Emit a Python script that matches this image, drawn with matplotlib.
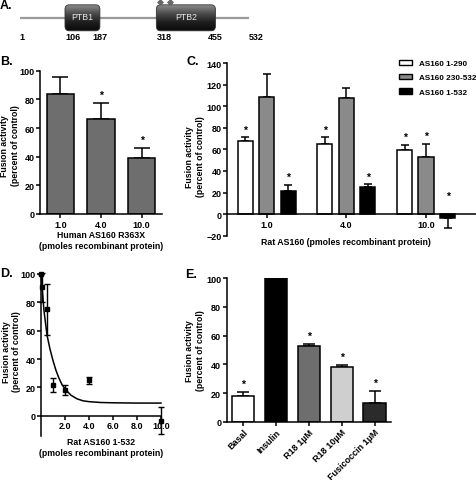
import matplotlib
matplotlib.use("Agg")
import matplotlib.pyplot as plt
import numpy as np
from matplotlib.patches import FancyBboxPatch, Patch
from matplotlib.colors import LinearSegmentedColormap

plt.rcParams["font.family"] = ["Liberation Sans", "DejaVu Sans"]
plt.rcParams["font.weight"] = "bold"
plt.rcParams["axes.labelweight"] = "bold"

# ---- data ----
# A: AS160 domain map (residues)
protein_length = 532
domain_names = ["PTB1", "PTB2"]
domain_starts = [106, 318]
domain_ends = [187, 455]
site_residues = [327, 350]

# B: human AS160 R363X
b_doses = ["1.0", "4.0", "10.0"]
b_values = [83.5, 66.0, 39.3]
b_errors = [11.8, 11.7, 6.7]
b_stars = [False, True, True]

# C: rat AS160 fragments
c_doses = ["1.0", "4.0", "10.0"]
c_series = ["AS160 1-290", "AS160 230-532", "AS160 1-532"]
c_values = [
    [67.5, 65.0, 59.0],
    [108.5, 108.0, 53.0],
    [21.5, 25.0, -3.7],
]
c_errors = [
    [3.5, 6.0, 5.0],
    [21.5, 9.0, 12.0],
    [5.5, 2.5, 9.6],
]
c_stars = [
    [True, True, True],
    [False, False, True],
    [True, True, True],
]

# D: dose response AS160 1-532
d_x = [0.0, 0.1, 0.5, 1.0, 2.0, 4.0, 10.0]
d_y = [100.0, 90.5, 75.0, 22.0, 18.0, 25.0, -3.5]
d_err = [0.0, 10.0, 18.0, 5.0, 3.5, 2.5, 9.6]
d_fit_x = [0.0, 0.25, 0.5, 0.75, 1.0, 1.25, 1.5, 1.75, 2.0, 2.5, 3.0, 3.5, 4.0, 5.0, 6.0, 8.0, 10.0]
d_fit_y = [100.0, 74.0, 57.0, 47.0, 39.0, 32.0, 26.5, 22.0, 19.0, 14.5, 12.0, 10.6, 10.0, 9.4, 9.2, 9.0, 9.0]

# E: treatments
e_labels = ["Basal", "Insulin", "R18 1µM", "R18 10µM", "Fusicoccin 1µM"]
e_values = [18.0, 100.0, 52.6, 38.0, 13.0]
e_errors = [2.8, 0.0, 1.8, 1.7, 8.4]
e_stars = [True, False, True, True, True]

# ---- figure ----
W, H = 477, 481
fig = plt.figure(figsize=(W / 100, H / 100), dpi=100)


def px_box(left, top, right, bottom):
    return [left / W, 1 - bottom / H, (right - left) / W, (bottom - top) / H]


def fig_text(x, y, s, **kw):
    fig.text(x / W, 1 - y / H, s, **kw)


def style_axis(ax):
    for side in ["top", "right"]:
        ax.spines[side].set_visible(False)
    for side in ["left", "bottom"]:
        ax.spines[side].set_linewidth(1.1)
    ax.tick_params(width=1.1, length=2.8, pad=1.2, labelsize=6.5)


def add_star(ax, x, y, offset=2.2):
    ax.annotate("*", (x, y), xytext=(0, offset), textcoords="offset points",
                ha="center", va="bottom", fontsize=7.5, fontweight="bold",
                annotation_clip=False)


label_kw = dict(fontsize=6.3, fontweight="bold", ha="center", va="center")
panel_kw = dict(fontsize=9, fontweight="bold", ha="left", va="center")

# ---- panel A ----
ax_a = fig.add_axes([0, 1 - 46 / H, 1, 46 / H])
scale, offset = 0.431, 19.3
ax_a.set_xlim(-offset / scale, (W - offset) / scale)
ax_a.set_ylim(46, 0)
ax_a.axis("off")
ax_a.plot([1, protein_length], [19, 19], color="#9a9a9a", lw=1.6, solid_capstyle="butt", zorder=1)
grad_cmap = LinearSegmentedColormap.from_list("ptb", ["#8a8a8a", "#4a4a4a", "#1e1e1e", "#0a0a0a"])
grad = np.linspace(0, 1, 64).reshape(-1, 1)
for name, start, end in zip(domain_names, domain_starts, domain_ends):
    patch = FancyBboxPatch((start, 5.8), end - start, 26, boxstyle="round,pad=0,rounding_size=10",
                           mutation_aspect=0.45, facecolor="none", edgecolor="#333333", lw=0.6, zorder=3)
    ax_a.add_patch(patch)
    img = ax_a.imshow(grad, extent=(start, end, 31.8, 5.8), cmap=grad_cmap, aspect="auto", zorder=2)
    img.set_clip_path(patch)
    ax_a.text((start + end) / 2, 18, name, color="#e6e6e6", fontsize=6.3, fontweight="normal",
              ha="center", va="center", zorder=4)
ax_a.set_xlim(-offset / scale, (W - offset) / scale)
ax_a.set_ylim(46, 0)
for site in site_residues:
    ax_a.plot([site], [2.8], marker="D", ms=3, color="#777777", mec="#555555", mew=0.5, zorder=5)
    ax_a.plot([site - 5, site + 5], [2.8, 2.8], color="#666666", lw=0.7, zorder=5)
    ax_a.plot([site, site], [0.6, 5.8], color="#666666", lw=0.7, zorder=5)
end_labels = [(1, "left"), (domain_starts[0], "left"), (domain_ends[0], "center"),
              (domain_starts[1], "left"), (domain_ends[1], "center"), (protein_length, "left")]
for res, ha in end_labels:
    ax_a.text(res, 37.5, str(res), fontsize=6.5, fontweight="bold", ha=ha, va="center")

# ---- panel B ----
ax_b = fig.add_axes(px_box(40, 71.7, 162, 215))
xb = np.arange(len(b_doses))
ax_b.bar(xb, b_values, width=0.67, color="#6e6e6e", edgecolor="black", linewidth=1.1, zorder=2)
ax_b.errorbar(xb, b_values, yerr=[np.zeros(len(xb)), b_errors], fmt="none", ecolor="black",
              elinewidth=1.1, capsize=5.6, capthick=1.1, zorder=1)
for x, v, e, s in zip(xb, b_values, b_errors, b_stars):
    if s:
        add_star(ax_b, x, v + e)
ax_b.set_xlim(-0.5, 2.5)
ax_b.set_ylim(0, 100)
ax_b.set_yticks([0, 20, 40, 60, 80, 100])
ax_b.set_xticks(xb, b_doses)
style_axis(ax_b)
fig_text(10, 146, "Fusion activity\n(percent of control)", rotation=90, **label_kw)
fig_text(101, 241, "Human AS160 R363X\n(pmoles recombinant protein)", **label_kw)

# ---- panel C ----
ax_c = fig.add_axes(px_box(227, 64, 477, 236.7))
xc = np.arange(len(c_doses))
c_colors = ["white", "#8a8a8a", "black"]
bw, step = 0.19, 0.27
for i, (vals, errs, stars) in enumerate(zip(c_values, c_errors, c_stars)):
    pos = xc + (i - 1) * step
    ax_c.bar(pos, vals, width=bw, color=c_colors[i], edgecolor="black", linewidth=1.1, zorder=2)
    lo = [0 if v >= 0 else e for v, e in zip(vals, errs)]
    hi = [e if v >= 0 else 0 for v, e in zip(vals, errs)]
    ax_c.errorbar(pos, vals, yerr=[lo, hi], fmt="none", ecolor="black", elinewidth=1.1,
                  capsize=2.8, capthick=1.1, zorder=1)
    for x, v, e, s in zip(pos, vals, errs, stars):
        if s:
            if v >= 0:
                add_star(ax_c, x, v + e)
            else:
                add_star(ax_c, x, 0, offset=9.5)
ax_c.set_xlim(-0.5, 2.64)
ax_c.set_ylim(-20, 140)
ax_c.set_yticks(range(-20, 141, 20))
ax_c.set_xticks(xc, c_doses)
style_axis(ax_c)
ax_c.spines["bottom"].set_position(("data", 0))
handles = [Patch(facecolor=c, edgecolor="black", linewidth=1.0) for c in c_colors]
fig.legend(handles, c_series, loc="upper left", bbox_to_anchor=(399 / W, 1 - 60.5 / H),
           frameon=False, handlelength=1.6, handleheight=0.6,
           handletextpad=0.8, labelspacing=0.85, borderpad=0, borderaxespad=0,
           prop={"weight": "bold", "size": 5.9})
fig_text(195, 157, "Fusion activity\n(percent of control)", rotation=90, **label_kw)
fig_text(346, 242.7, "Rat AS160 (pmoles recombinant protein)", **label_kw)

# ---- panel D ----
ax_d = fig.add_axes(px_box(41, 275, 161, 436.7))
ax_d.plot(d_fit_x, d_fit_y, color="black", lw=1.1, zorder=2, clip_on=False)
ax_d.errorbar(d_x, d_y, yerr=d_err, fmt="s", color="black", ms=3.4, elinewidth=1.0,
              capsize=2.2, capthick=1.0, zorder=3, clip_on=False)
ax_d.set_xlim(0, 10)
ax_d.set_ylim(-14, 100)
ax_d.set_yticks([0, 20, 40, 60, 80, 100])
ax_d.set_xticks([2, 4, 6, 8, 10], ["2.0", "4.0", "6.0", "8.0", "10.0"])
style_axis(ax_d)
ax_d.spines["bottom"].set_position(("data", 0))
fig_text(11.7, 351.7, "Fusion activity\n(percent of control)", rotation=90, **label_kw)
fig_text(100.7, 448, "Rat AS160 1-532\n(pmoles recombinant protein)", **label_kw)

# ---- panel E ----
ax_e = fig.add_axes(px_box(226.7, 279.3, 391, 422.7))
xe = np.arange(len(e_labels))
e_colors = ["white", "black", "#6e6e6e", "#cfcfcf", "#2b2b2b"]
ax_e.bar(xe, e_values, width=0.68, color=e_colors, edgecolor="black", linewidth=1.1, zorder=2)
ax_e.errorbar(xe, e_values, yerr=[np.zeros(len(xe)), e_errors], fmt="none", ecolor="black",
              elinewidth=1.1, capsize=4.3, capthick=1.1, zorder=1)
for x, v, e, s in zip(xe, e_values, e_errors, e_stars):
    if s:
        add_star(ax_e, x, v + e)
ax_e.set_xlim(-0.5, 4.5)
ax_e.set_ylim(0, 100)
ax_e.set_yticks([0, 20, 40, 60, 80, 100])
ax_e.set_xticks(xe)
ax_e.set_xticklabels(e_labels, rotation=45, ha="right", va="top", rotation_mode="anchor", fontsize=6.3)
style_axis(ax_e)
fig_text(195, 351, "Fusion activity\n(percent of control)", rotation=90, **label_kw)

# panel letters
fig_text(0, 6, "A.", **panel_kw)
fig_text(0, 62, "B.", **panel_kw)
fig_text(187, 62, "C.", **panel_kw)
fig_text(0, 274, "D.", **panel_kw)
fig_text(185, 275, "E.", **panel_kw)

fig.savefig("out.png", dpi=100)
